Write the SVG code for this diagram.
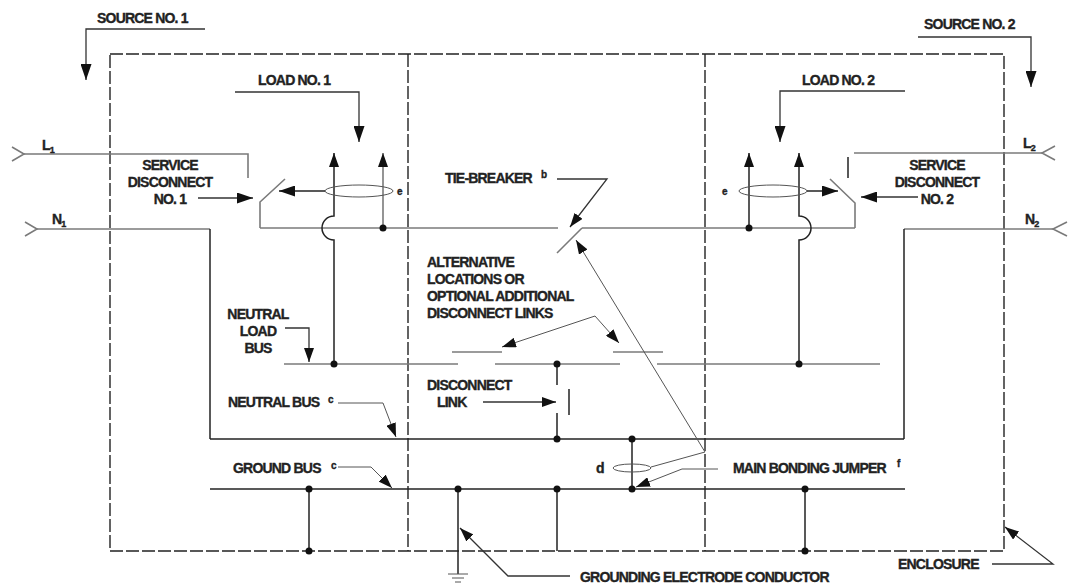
<svg xmlns="http://www.w3.org/2000/svg" width="1069" height="585" viewBox="0 0 1069 585">
<defs>
<marker id="arr" markerUnits="userSpaceOnUse" markerWidth="16" markerHeight="11" refX="16" refY="5.5" orient="auto"><path d="M0,0 L16,5.5 L0,11 z" fill="#111"/></marker>
<marker id="arrs" markerUnits="userSpaceOnUse" markerWidth="14" markerHeight="10" refX="14" refY="5" orient="auto"><path d="M0,0 L14,5 L0,10 z" fill="#111"/></marker>
<style>
text{font-family:"Liberation Sans",Arial,sans-serif;font-weight:bold;font-size:14px;letter-spacing:-0.8px;fill:#222;stroke:#222;stroke-width:0.35}
.sup{font-size:10px;letter-spacing:0}
.sub{font-size:9px;letter-spacing:0}
.mid{text-anchor:middle}
.enc{fill:none;stroke:#222;stroke-width:1.4;stroke-dasharray:13 3}
.g{fill:none;stroke:#7a7a7a;stroke-width:1.6}
.k{fill:none;stroke:#222;stroke-width:1.5}
.ld{fill:none;stroke:#333;stroke-width:1.3}
.th{fill:none;stroke:#555;stroke-width:1}
.dot{fill:#111}
</style>
</defs>

<g id="enclosure">
<rect class="enc" x="110" y="54" width="894" height="497"/>
<line class="enc" x1="408" y1="54" x2="408" y2="551"/>
<line class="enc" x1="705" y1="54" x2="705" y2="551"/>
</g>

<g id="connectors">
<path class="g" d="M12,147 L24,154 L12,161"/>
<path class="g" d="M24,154 L248,154 L248,178"/>
<path class="g" d="M25,222 L37,229 L25,236"/>
<path class="g" d="M37,229 L210,229"/>
<path class="k" d="M210,229 L210,439"/>
<path class="g" d="M260,228 L260,202 L285,179"/>
<path class="g" d="M260,228 L558,228"/>
<path class="g" d="M557,253 L582,228"/>
<path class="g" d="M582,228 L855,228"/>
<path class="g" d="M855,228 L855,203 L830,179"/>
<path class="k" d="M848,157 L848,178"/>
<path class="g" d="M854,153 L1042,153"/>
<path class="g" d="M1055,146 L1042,153 L1055,160"/>
<path class="g" d="M1053,229 L904,229"/>
<path class="k" d="M904,229 L904,439"/>
<path class="g" d="M1067,222 L1053,229 L1067,236"/>
<path class="k" d="M334,364 L334,240 A12,12 0 0 1 334,216 L334,153" marker-end="url(#arrs)"/>
<path class="g" d="M383,228 L383,153" marker-end="url(#arrs)"/>
<ellipse class="th" cx="359" cy="191" rx="34" ry="6"/>
<path class="k" d="M325,191 L279,191" marker-end="url(#arr)"/>
<path class="k" d="M799,364 L799,240 A12,12 0 0 0 799,216 L799,153" marker-end="url(#arrs)"/>
<path class="k" d="M749,228 L749,153" marker-end="url(#arrs)"/>
<ellipse class="th" cx="773" cy="191" rx="34" ry="6"/>
<path class="k" d="M807,191 L838,191" marker-end="url(#arr)"/>
<path class="g" d="M284,364 L458,364"/>
<path class="g" d="M495,364 L620,364"/>
<path class="g" d="M657,364 L880,364"/>
<path class="g" d="M452,352 L502,352"/>
<path class="g" d="M613,352 L663,352"/>
<path class="k" d="M557,364 L557,385"/>
<path class="k" d="M557,413 L557,439"/>
<path class="k" d="M569,389 L569,415"/>
<path class="k" d="M210,439 L904,439"/>
<path class="k" d="M632,439 L632,489"/>
<ellipse class="th" cx="632" cy="468" rx="19" ry="4"/>
<path class="k" d="M210,489 L905,489"/>
<path class="k" d="M309,489 L309,551"/>
<path class="k" d="M557,489 L557,551"/>
<path class="k" d="M805,489 L805,551"/>
<path class="k" d="M458,489 L458,574"/>
<path class="th" d="M448,574 L468,574 M452,578 L464,578 M455,582 L461,582"/>

<path class="ld" d="M205,29 L86,29 L86,80" marker-end="url(#arr)"/>
<path class="ld" d="M918,37 L1031,37 L1031,87" marker-end="url(#arr)"/>
<path class="ld" d="M235,92 L359,92 L359,142" marker-end="url(#arr)"/>
<path class="ld" d="M905,91 L780,91 L780,142" marker-end="url(#arr)"/>
<path class="ld" d="M198,198 L253,198" marker-end="url(#arr)"/>
<path class="ld" d="M918,197 L861,197" marker-end="url(#arr)"/>
<path class="ld" d="M557,179 L607,179 L570,227" marker-end="url(#arrs)"/>
<path class="ld" d="M483,402 L556,402" marker-end="url(#arrs)"/>
<path class="ld" d="M285,328 L309,328 L309,362" marker-end="url(#arrs)"/>
<path class="th" d="M338,403 L383,403 L396,437" marker-end="url(#arrs)"/>
<path class="th" d="M338,467 L371,467 L392,488" marker-end="url(#arrs)"/>
<path class="th" d="M595,316 L502,347" marker-end="url(#arrs)"/>
<path class="th" d="M595,316 L619,343" marker-end="url(#arrs)"/>
<path class="th" d="M651,467 L705,452 L576,240" marker-end="url(#arrs)"/>
<path class="th" d="M718,469 L682,469 L636,487" marker-end="url(#arrs)"/>
<path class="ld" d="M570,576 L508,576 L460,528" marker-end="url(#arrs)"/>
<path class="ld" d="M992,564 L1053,564 L1005,527" marker-end="url(#arrs)"/>
</g>

<g id="dots">
<circle class="dot" cx="383" cy="228" r="3.5"/>
<circle class="dot" cx="749" cy="228" r="3.5"/>
<circle class="dot" cx="334" cy="364" r="3.5"/>
<circle class="dot" cx="557" cy="364" r="3.5"/>
<circle class="dot" cx="799" cy="364" r="3.5"/>
<circle class="dot" cx="557" cy="439" r="3.5"/>
<circle class="dot" cx="632" cy="439" r="3.5"/>
<circle class="dot" cx="309" cy="489" r="3.5"/>
<circle class="dot" cx="458" cy="489" r="3.5"/>
<circle class="dot" cx="557" cy="489" r="3.5"/>
<circle class="dot" cx="632" cy="489" r="3.5"/>
<circle class="dot" cx="805" cy="489" r="3.5"/>
<circle class="dot" cx="309" cy="551" r="3.5"/>
<circle class="dot" cx="805" cy="551" r="3.5"/>
</g>

<g id="labels">
<g id="source1"><text x="97" y="23">SOURCE NO. 1</text></g>
<g id="source2"><text x="924" y="29">SOURCE NO. 2</text></g>
<g id="load1"><text x="258" y="85">LOAD NO. 1</text></g>
<g id="load2"><text x="802" y="85">LOAD NO. 2</text></g>
<g id="l1"><text x="42" y="150">L<tspan class="sub" dy="3">1</tspan></text></g>
<g id="n1"><text x="52" y="224">N<tspan class="sub" dy="3">1</tspan></text></g>
<g id="l2"><text x="1023" y="148">L<tspan class="sub" dy="3">2</tspan></text></g>
<g id="n2"><text x="1025" y="224">N<tspan class="sub" dy="3">2</tspan></text></g>
<g id="sd1">
<text class="mid" x="170" y="170">SERVICE</text>
<text class="mid" x="170" y="187">DISCONNECT</text>
<text class="mid" x="170" y="204">NO. 1</text>
</g>
<g id="sd2">
<text class="mid" x="937" y="170">SERVICE</text>
<text class="mid" x="937" y="187">DISCONNECT</text>
<text class="mid" x="937" y="204">NO. 2</text>
</g>
<g id="e1"><text class="sup" x="397" y="195">e</text></g>
<g id="e2"><text class="sup" x="722" y="195">e</text></g>
<g id="tiebreaker"><text x="445" y="183">TIE-BREAKER</text><text class="sup" x="541" y="178">b</text></g>
<g id="altloc">
<text x="427" y="267">ALTERNATIVE</text>
<text x="427" y="284">LOCATIONS OR</text>
<text x="427" y="301">OPTIONAL ADDITIONAL</text>
<text x="427" y="318">DISCONNECT LINKS</text>
</g>
<g id="nlb">
<text class="mid" x="258" y="319">NEUTRAL</text>
<text class="mid" x="258" y="336">LOAD</text>
<text class="mid" x="258" y="353">BUS</text>
</g>
<g id="dlink">
<text x="427" y="390">DISCONNECT</text>
<text x="437" y="407">LINK</text>
</g>
<g id="nbus"><text x="228" y="407">NEUTRAL BUS</text><text class="sup" x="328" y="403">c</text></g>
<g id="gbus"><text x="233" y="473">GROUND BUS</text><text class="sup" x="331" y="469">c</text></g>
<g id="d"><text x="596" y="473">d</text></g>
<g id="mbj"><text x="733" y="473">MAIN BONDING JUMPER</text><text class="sup" x="897" y="467">f</text></g>
<g id="gec"><text x="580" y="582">GROUNDING ELECTRODE CONDUCTOR</text></g>
<g id="encl"><text x="898" y="569">ENCLOSURE</text></g>
</g>
</svg>
